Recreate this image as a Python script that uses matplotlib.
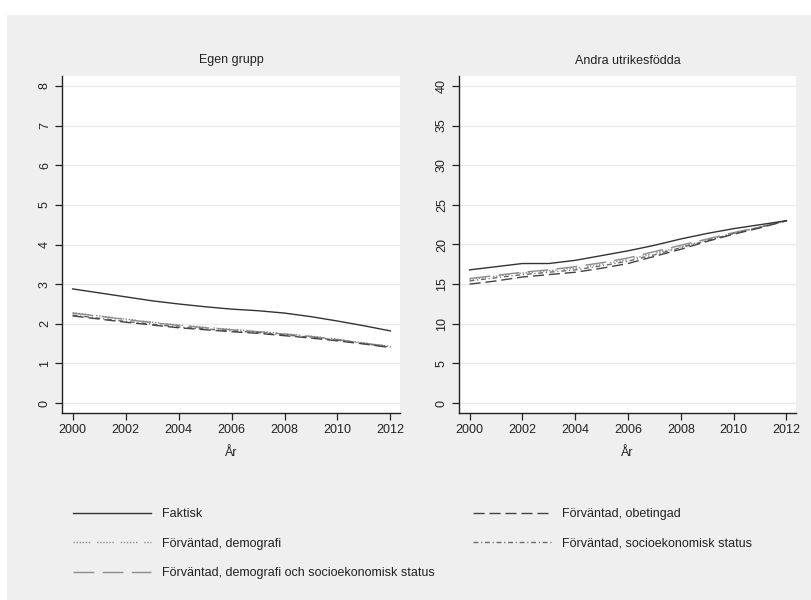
import matplotlib
matplotlib.use("Agg")
import matplotlib.pyplot as plt
from matplotlib.patches import Rectangle
from matplotlib.lines import Line2D

plt.rcParams['font.family'] = ['Liberation Sans', 'DejaVu Sans']

years = [2000, 2001, 2002, 2003, 2004, 2005, 2006, 2007, 2008, 2009, 2010, 2011, 2012]

panel_titles = ["Egen grupp", "Andra utrikesfödda"]
series_names = ["Faktisk", "Förväntad, demografi",
                "Förväntad, demografi och socioekonomisk status",
                "Förväntad, obetingad", "Förväntad, socioekonomisk status"]

# Egen grupp
egen_faktisk = [2.88, 2.78, 2.68, 2.58, 2.50, 2.43, 2.37, 2.33, 2.27, 2.18, 2.07, 1.95, 1.82]
egen_demografi = [2.28, 2.20, 2.12, 2.04, 1.97, 1.91, 1.86, 1.81, 1.75, 1.69, 1.61, 1.52, 1.43]
egen_demo_ses = [2.27, 2.19, 2.11, 2.03, 1.96, 1.90, 1.85, 1.80, 1.74, 1.68, 1.60, 1.51, 1.43]
egen_obetingad = [2.20, 2.12, 2.04, 1.97, 1.90, 1.85, 1.80, 1.76, 1.70, 1.64, 1.57, 1.49, 1.40]
egen_ses = [2.22, 2.14, 2.06, 1.99, 1.92, 1.87, 1.82, 1.78, 1.72, 1.66, 1.59, 1.50, 1.41]

# Andra utrikesfödda
andra_faktisk = [16.8, 17.2, 17.6, 17.6, 18.0, 18.6, 19.2, 19.9, 20.7, 21.4, 22.0, 22.5, 23.0]
andra_demografi = [15.6, 16.0, 16.4, 16.7, 17.0, 17.5, 18.1, 18.9, 19.7, 20.6, 21.4, 22.2, 23.0]
andra_demo_ses = [15.7, 16.1, 16.5, 16.8, 17.2, 17.7, 18.3, 19.1, 19.9, 20.7, 21.5, 22.2, 23.0]
andra_obetingad = [15.0, 15.4, 15.9, 16.2, 16.5, 17.0, 17.6, 18.5, 19.4, 20.4, 21.3, 22.1, 23.0]
andra_ses = [15.4, 15.8, 16.2, 16.5, 16.8, 17.3, 17.9, 18.7, 19.6, 20.5, 21.4, 22.2, 23.0]

x_ticks = [2000, 2002, 2004, 2006, 2008, 2010, 2012]
egen_yticks = [0, 1, 2, 3, 4, 5, 6, 7, 8]
andra_yticks = [0, 5, 10, 15, 20, 25, 30, 35, 40]

styles = [
    dict(color="#333333", linestyle="-", lw=1.0),
    dict(color="#8a8a8a", linestyle=(0, (1, 1.2, 1, 1.2, 1, 1.2, 1, 1.2, 1, 1.2, 1, 5)), lw=1.0),
    dict(color="#8c8c8c", linestyle=(0, (15, 6)), lw=1.0),
    dict(color="#444444", linestyle=(0, (8, 3.5)), lw=1.0),
    dict(color="#6a6a6a", linestyle=(0, (3.5, 2, 0.8, 2)), lw=1.0),
]

W, H = 811, 600
fig = plt.figure(figsize=(W / 100, H / 100), dpi=100)
fig.patch.set_facecolor("white")
fig.patches.append(Rectangle((7 / W, 0), 1 - 7 / W, 1 - 15 / H, transform=fig.transFigure,
                             facecolor="#efefef", edgecolor="none", zorder=-10))

FS = 9.0
panels = [
    (62, 400, 76, 413, (-0.25, 8.25), egen_yticks, panel_titles[0],
     [egen_faktisk, egen_demografi, egen_demo_ses, egen_obetingad, egen_ses]),
    (459, 796, 76, 413, (-1.26, 41.26), andra_yticks, panel_titles[1],
     [andra_faktisk, andra_demografi, andra_demo_ses, andra_obetingad, andra_ses]),
]

for (x0, x1, y0, y1, ylim, yticks, title, data) in panels:
    ax = fig.add_axes([x0 / W, 1 - y1 / H, (x1 - x0) / W, (y1 - y0) / H])
    ax.set_facecolor("white")
    order = [2, 1, 4, 3, 0]
    for i in order:
        ax.plot(years, data[i], **styles[i])
    ax.set_ylim(*ylim)
    ax.set_xlim(2000 - 0.4, 2012 + 0.36)
    ax.set_xticks(x_ticks)
    ax.set_yticks(yticks)
    ax.set_xticklabels([str(t) for t in x_ticks], fontsize=FS)
    ax.set_yticklabels([str(t) for t in yticks], fontsize=FS, rotation=90, va="center")
    ax.grid(axis="y", color="#eaeaea", lw=0.9)
    ax.set_axisbelow(True)
    for s in ["top", "right"]:
        ax.spines[s].set_visible(False)
    for s in ["left", "bottom"]:
        ax.spines[s].set_color("#222222")
        ax.spines[s].set_linewidth(1.0)
    ax.tick_params(length=5, width=0.9, color="#222222", pad=3, labelcolor="#222222")
    ax.set_xlabel("År", fontsize=FS, labelpad=8, color="#222222")
    ax.set_title(title, fontsize=FS, pad=9, color="#222222")

# Legends
def handles(idx):
    return [Line2D([], [], **styles[i]) for i in idx]

leg_kw = dict(frameon=False, fontsize=FS, handlelength=6.2, handletextpad=0.9,
              labelspacing=1.4, borderpad=0, borderaxespad=0, loc="upper left")
l1 = fig.legend(handles([0, 1, 2]), [series_names[i] for i in [0, 1, 2]],
                bbox_to_anchor=(73 / W, 1 - 508 / H), **leg_kw)
l2 = fig.legend(handles([3, 4]), [series_names[i] for i in [3, 4]],
                bbox_to_anchor=(473 / W, 1 - 508 / H), **leg_kw)
for l in (l1, l2):
    for t in l.get_texts():
        t.set_color("#222222")

fig.savefig("out.png", dpi=100, facecolor=fig.get_facecolor())
